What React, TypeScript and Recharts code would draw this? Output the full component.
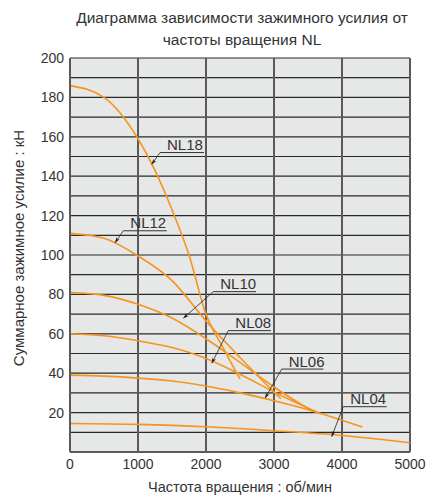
import React from 'react';
import { LineChart, Line, XAxis, YAxis, CartesianGrid, ReferenceLine } from 'recharts';

const rpmTicks = [0, 1000, 2000, 3000, 4000, 5000];
const forceTicks = [0, 10, 20, 30, 40, 50, 60, 70, 80, 90, 100, 110, 120, 130, 140, 150, 160, 170, 180, 190, 200];

const nl18 = [
  { rpm: 0, f: 186 }, { rpm: 500, f: 180 }, { rpm: 1000, f: 159 }, { rpm: 1250, f: 143 },
  { rpm: 1500, f: 123 }, { rpm: 1750, f: 100 }, { rpm: 2000, f: 70 }, { rpm: 2250, f: 53 }, { rpm: 2500, f: 37 },
];
const nl12 = [
  { rpm: 0, f: 111 }, { rpm: 500, f: 108.5 }, { rpm: 1000, f: 99.5 }, { rpm: 1500, f: 87 },
  { rpm: 2000, f: 66.5 }, { rpm: 2500, f: 48 }, { rpm: 3100, f: 27 },
];
const nl10 = [
  { rpm: 0, f: 81 }, { rpm: 500, f: 79.5 }, { rpm: 1000, f: 75 }, { rpm: 1500, f: 68 },
  { rpm: 2000, f: 57.5 }, { rpm: 2500, f: 45.5 }, { rpm: 3000, f: 33 }, { rpm: 3550, f: 21 },
];
const nl08 = [
  { rpm: 0, f: 60 }, { rpm: 500, f: 59 }, { rpm: 1000, f: 56.5 }, { rpm: 1500, f: 53 },
  { rpm: 2000, f: 47.5 }, { rpm: 2500, f: 39.5 }, { rpm: 3000, f: 30.5 }, { rpm: 3650, f: 20 },
];
const nl06 = [
  { rpm: 0, f: 39 }, { rpm: 500, f: 38.5 }, { rpm: 1000, f: 37.5 }, { rpm: 1500, f: 36 },
  { rpm: 2000, f: 33.5 }, { rpm: 2500, f: 30 }, { rpm: 3000, f: 26 }, { rpm: 3500, f: 21.5 }, { rpm: 4300, f: 12.7 },
];
const nl04 = [
  { rpm: 0, f: 14.5 }, { rpm: 1000, f: 14 }, { rpm: 2000, f: 12.8 }, { rpm: 3000, f: 10.8 },
  { rpm: 4000, f: 8.4 }, { rpm: 5000, f: 4.7 },
];

const seriesList = [
  { name: 'NL18', data: nl18 },
  { name: 'NL12', data: nl12 },
  { name: 'NL10', data: nl10 },
  { name: 'NL08', data: nl08 },
  { name: 'NL06', data: nl06 },
  { name: 'NL04', data: nl04 },
];

// label annotations (data coordinates): underline from x1 to x2 at y, arrow tip at (ax, ay)
const annotations = [
  { name: 'NL18', x1: 1324, x2: 1971, y: 152, ax: 1201, ay: 146 },
  { name: 'NL12', x1: 784, x2: 1422, y: 112.3, ax: 662, ay: 106.2 },
  { name: 'NL10', x1: 2107, x2: 2735, y: 81.4, ax: 1667, ay: 67.9 },
  { name: 'NL08', x1: 2328, x2: 2956, y: 61.6, ax: 2084, ay: 45 },
  { name: 'NL06', x1: 3113, x2: 3725, y: 42.1, ax: 2868, ay: 27.3 },
  { name: 'NL04', x1: 4019, x2: 4657, y: 23, ax: 3848, ay: 7.8 },
];

const titleLines = ['Диаграмма зависимости зажимного усилия от', 'частоты вращения NL'];
const xTitle = 'Частота вращения : об/мин';
const yTitle = 'Суммарное зажимное усилие : кН';

const FONT = "'Liberation Sans', Arial, sans-serif";
const TXT = '#333';
const ORANGE = '#f7941d';

const YTick = (props: any) => {
  const { x, y, payload } = props;
  if (payload.value % 20 !== 0 || payload.value === 0) return null;
  return (
    <text x={x} y={y} dy={5} textAnchor="end" fontSize={14} fill={TXT} fontFamily={FONT}>
      {payload.value}
    </text>
  );
};

const XTick = (props: any) => {
  const { x, y, payload } = props;
  return (
    <text x={x} y={y} dy={12} textAnchor="middle" fontSize={14} fill={TXT} fontFamily={FONT}>
      {payload.value}
    </text>
  );
};

export default function App() {
  return (
    <div style={{ position: 'absolute', left: 0, top: 0, width: 442, height: 497, fontFamily: FONT, background: '#fff' }}>
      <svg width={0} height={0} style={{ position: 'absolute' }}>
        <defs>
          <marker id="arr" viewBox="0 0 10 10" refX="10" refY="5" markerWidth="7" markerHeight="7" orient="auto">
            <path d="M0,1.5 L10,5 L0,8.5 L3,5 z" fill="#222" />
          </marker>
        </defs>
      </svg>
      <div style={{ position: 'absolute', left: 0, top: 7, width: 484, textAlign: 'center', fontSize: 15.5, lineHeight: '22px', color: TXT }}>
        {titleLines.map((t) => (
          <div key={t}>{t}</div>
        ))}
      </div>
      <div style={{ position: 'absolute', left: 0, top: 0 }}>
        <LineChart width={442} height={497} margin={{ top: 58, right: 32, left: 0, bottom: 0 }}>
          <CartesianGrid horizontal={true} vertical={false} stroke="#2a2a2a" strokeWidth={1.2} fill="#e6e7e7" fillOpacity={1} />
          <CartesianGrid horizontal={false} vertical={true} stroke="#5a5a5a" strokeWidth={2} />
          <XAxis
            dataKey="rpm"
            type="number"
            domain={[0, 5000]}
            ticks={rpmTicks}
            interval={0}
            tickLine={false}
            tickSize={0}
            tickMargin={5}
            axisLine={{ stroke: '#5a5a5a', strokeWidth: 2 }}
            tick={<XTick />}
            height={45}
            allowDataOverflow
            label={{
              content: (p: any) => {
                const vb = p.viewBox || { x: 70, y: 452, width: 340 };
                return (
                  <text x={vb.x + vb.width / 2} y={vb.y + 40} textAnchor="middle" fontSize={14.5} fill={TXT} fontFamily={FONT}>
                    {xTitle}
                  </text>
                );
              },
            }}
          />
          <YAxis
            type="number"
            domain={[0, 200]}
            ticks={forceTicks}
            interval={0}
            tickLine={false}
            tickSize={0}
            tickMargin={6}
            axisLine={{ stroke: '#5a5a5a', strokeWidth: 2 }}
            tick={<YTick />}
            width={70}
            allowDataOverflow
            label={{
              content: (p: any) => {
                const vb = p.viewBox || { x: 0, y: 58, height: 394 };
                const cx = vb.x + 24;
                const cy = vb.y + vb.height / 2 - 7;
                return (
                  <text x={cx} y={cy} textAnchor="middle" fontSize={15} fill={TXT} fontFamily={FONT} transform={`rotate(-90, ${cx}, ${cy})`}>
                    {yTitle}
                  </text>
                );
              },
            }}
          />
          {seriesList.map((s) => (
            <Line
              key={s.name}
              data={s.data}
              dataKey="f"
              type="monotone"
              stroke={ORANGE}
              strokeWidth={1.6}
              dot={false}
              activeDot={false}
              isAnimationActive={false}
            />
          ))}
          {annotations.map((a) => (
            <ReferenceLine
              key={a.name + '-lead'}
              segment={[{ x: a.x1, y: a.y }, { x: a.ax, y: a.ay }]}
              ifOverflow="visible"
              shape={(p: any) => (
                <line x1={p.x1} y1={p.y1} x2={p.x2} y2={p.y2} stroke="#222" strokeWidth={0.8} markerEnd="url(#arr)" />
              )}
            />
          ))}
          {annotations.map((a) => (
            <ReferenceLine
              key={a.name + '-under'}
              segment={[{ x: a.x1, y: a.y }, { x: a.x2, y: a.y }]}
              ifOverflow="visible"
              stroke="#333"
              strokeWidth={1}
              label={{
                content: (p: any) => {
                  const vb = p.viewBox;
                  if (!vb) return null;
                  return (
                    <text x={vb.x + 7} y={vb.y - 2.5} fontSize={15} fill={TXT} fontFamily={FONT}>
                      {a.name}
                    </text>
                  );
                },
              }}
            />
          ))}
        </LineChart>
      </div>
    </div>
  );
}
